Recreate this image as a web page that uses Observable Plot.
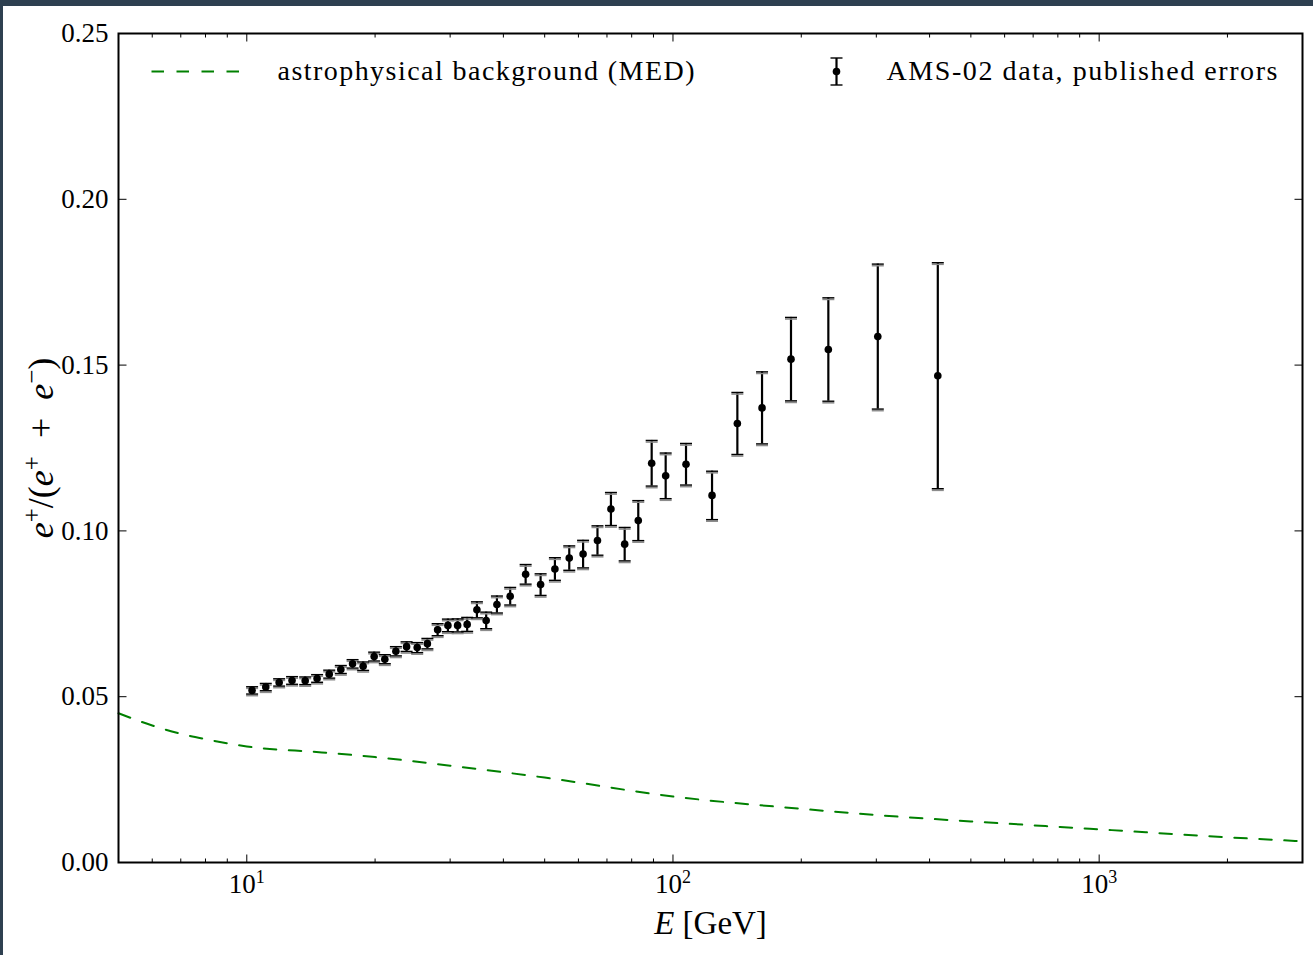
<!DOCTYPE html>
<html><head><meta charset="utf-8">
<script src="https://cdn.jsdelivr.net/npm/d3@7"></script>
<script src="https://cdn.jsdelivr.net/npm/@observablehq/plot@0.6"></script>
<style>
html,body{margin:0;padding:0;background:#2e4050;width:1313px;height:955px;overflow:hidden;}
#chart{position:absolute;left:3px;top:6px;width:1310px;height:949px;background:#fff;}
</style></head><body><div id="chart"></div>
<script>
// AMS-02 positron fraction
const energy = [10.29, 11.08, 11.91, 12.77, 13.71, 14.62, 15.61, 16.62, 17.71, 18.75, 19.90, 21.08, 22.38, 23.71, 25.11, 26.53, 28.04, 29.64, 31.24, 32.89, 34.67, 36.45, 38.63, 41.50, 45.11, 48.91, 52.84, 57.10, 61.53, 66.50, 71.52, 77.03, 82.90, 89.13, 96.13, 107.3, 123.5, 141.6, 161.8, 189.2, 231.5, 302.4, 418.2];
const fraction = [0.0519, 0.0529, 0.0543, 0.0549, 0.0548, 0.0555, 0.0568, 0.0582, 0.0599, 0.0592, 0.0621, 0.0613, 0.0637, 0.0651, 0.0648, 0.0660, 0.0702, 0.0715, 0.0715, 0.0718, 0.0762, 0.0730, 0.0778, 0.0803, 0.0869, 0.0838, 0.0885, 0.0918, 0.0930, 0.0971, 0.1066, 0.0960, 0.1031, 0.1204, 0.1166, 0.1201, 0.1107, 0.1324, 0.1371, 0.1518, 0.1547, 0.1586, 0.1468];
const fractionErr = [0.0011, 0.0011, 0.0011, 0.00115, 0.00115, 0.00115, 0.0012, 0.0012, 0.00127, 0.00127, 0.00133, 0.00136, 0.00139, 0.00145, 0.00151, 0.00157, 0.00181, 0.0019, 0.00196, 0.00211, 0.00241, 0.0025, 0.00256, 0.00265, 0.00296, 0.00326, 0.00341, 0.00368, 0.00416, 0.00443, 0.00498, 0.00504, 0.00603, 0.00688, 0.00688, 0.00627, 0.0073, 0.00935, 0.01086, 0.01258, 0.01559, 0.02186, 0.03408];

// astrophysical background (MED)
const bgEnergy = [5, 6, 7, 8, 10, 15, 20, 30, 50, 100, 200, 300, 500, 1000, 2000, 3000];
const bgFraction = [0.0450, 0.0413, 0.0388, 0.0372, 0.0350, 0.0332, 0.0318, 0.0292, 0.0256, 0.0199, 0.0162, 0.0143, 0.0124, 0.0100, 0.0076, 0.0064];

const xDomain = [5, 3000];
const yDomain = [0, 0.25];
const xMajorTicks = [10, 100, 1000];
const xMajorLabels = ["10^1", "10^2", "10^3"];
const xMinorTicks = [6, 7, 8, 9, 20, 30, 40, 50, 60, 70, 80, 90, 200, 300, 400, 500, 600, 700, 800, 900, 2000];
const yTicks = [0, 0.05, 0.10, 0.15, 0.20, 0.25];
const yTickLabels = ["0.00", "0.05", "0.10", "0.15", "0.20", "0.25"];
const legendLabels = ["astrophysical background (MED)", "AMS-02 data, published errors"];
const xLabel = "E [GeV]";
const yLabel = "e+/(e+ + e-)";

const ams = energy.map((e, i) => ({E: e, f: fraction[i], lo: fraction[i] - fractionErr[i], hi: fraction[i] + fractionErr[i]}));
const bg = bgEnergy.map((e, i) => ({E: e, f: bgFraction[i]}));

const sym = (fn) => ({draw(ctx, size) { const r = Math.sqrt(size / Math.PI); fn(ctx, r); }});
const hLine = sym((c, r) => { c.moveTo(-r, 0); c.lineTo(r, 0); });
const vLine = sym((c, r) => { c.moveTo(0, -r); c.lineTo(0, r); });
const tickUp = sym((c, r) => { c.moveTo(0, 0); c.lineTo(0, -r); });
const tickDown = sym((c, r) => { c.moveTo(0, 0); c.lineTo(0, r); });
const tickRight = sym((c, r) => { c.moveTo(0, 0); c.lineTo(r, 0); });
const tickLeft = sym((c, r) => { c.moveTo(0, 0); c.lineTo(-r, 0); });

const green = "#008000";
const tickStyle = {fill: "none", stroke: "black", strokeWidth: 1};

const chart = Plot.plot({
  width: 1310, height: 949,
  marginLeft: 115, marginRight: 11, marginTop: 27, marginBottom: 93,
  style: {fontFamily: "'Liberation Serif', serif", background: "white", color: "black"},
  x: {type: "log", domain: xDomain, axis: null},
  y: {domain: yDomain, axis: null},
  marks: [
    // background model
    Plot.line(bg, {x: "E", y: "f", stroke: green, strokeWidth: 2, strokeDasharray: "12.5,12.5", curve: "monotone-x"}),
    // error bars
    Plot.ruleX(ams, {x: "E", y1: "lo", y2: "hi", stroke: "black", strokeWidth: 2.2}),
    Plot.dot(ams, {x: "E", y: "hi", symbol: hLine, r: 6, fill: "none", stroke: "#8c8c8c", strokeWidth: 1.6, dy: 1.6}),
    Plot.dot(ams, {x: "E", y: "lo", symbol: hLine, r: 6, fill: "none", stroke: "#8c8c8c", strokeWidth: 1.6, dy: 1.6}),
    Plot.dot(ams, {x: "E", y: "hi", symbol: hLine, r: 6, fill: "none", stroke: "black", strokeWidth: 1.4}),
    Plot.dot(ams, {x: "E", y: "lo", symbol: hLine, r: 6, fill: "none", stroke: "black", strokeWidth: 1.4}),
    Plot.dot(ams, {x: "E", y: "f", r: 3.8, fill: "black", stroke: "none"}),
    // ticks (inward, all four sides)
    Plot.dot(xMajorTicks, {x: d => d, y: yDomain[0], symbol: tickUp, r: 8, ...tickStyle}),
    Plot.dot(xMajorTicks, {x: d => d, y: yDomain[1], symbol: tickDown, r: 8, ...tickStyle}),
    Plot.dot(xMinorTicks, {x: d => d, y: yDomain[0], symbol: tickUp, r: 4, ...tickStyle}),
    Plot.dot(xMinorTicks, {x: d => d, y: yDomain[1], symbol: tickDown, r: 4, ...tickStyle}),
    Plot.dot(yTicks, {x: xDomain[0], y: d => d, symbol: tickRight, r: 8, ...tickStyle}),
    Plot.dot(yTicks, {x: xDomain[1], y: d => d, symbol: tickLeft, r: 8, ...tickStyle}),
    Plot.frame({stroke: "black", strokeWidth: 2}),
    // tick labels
    Plot.text(yTicks, {y: d => d, frameAnchor: "left", text: (d, i) => yTickLabels[i], textAnchor: "end", dx: -10, fontSize: 27, fill: "black"}),
    Plot.text(xMajorTicks, {x: d => d, frameAnchor: "bottom", text: (d, i) => xMajorLabels[i], textAnchor: "middle", lineAnchor: "top", dy: 11, fontSize: 27, fill: "black"}),
    // axis labels
    Plot.text([xLabel], {frameAnchor: "bottom", text: d => d, textAnchor: "middle", lineAnchor: "middle", dy: 61, fontSize: 33, fill: "black"}),
    Plot.text([yLabel], {frameAnchor: "left", text: d => d, rotate: -90, textAnchor: "middle", lineAnchor: "middle", dx: -77, fontSize: 36, fill: "black"}),
    // legend
    Plot.dot([0], {frameAnchor: "top-left", dx: 78, dy: 38, symbol: hLine, r: 45, fill: "none", stroke: green, strokeWidth: 2, strokeDasharray: "12.5,12.5"}),
    Plot.text([legendLabels[0]], {frameAnchor: "top-left", text: d => d, dx: 159, dy: 38, textAnchor: "start", lineAnchor: "middle", fontSize: 28, fill: "black"}),
    Plot.dot([0], {frameAnchor: "top-left", dx: 718, dy: 38, symbol: vLine, r: 13.5, fill: "none", stroke: "black", strokeWidth: 2.2}),
    Plot.dot([0], {frameAnchor: "top-left", dx: 718, dy: 24.5, symbol: hLine, r: 6, fill: "none", stroke: "black", strokeWidth: 1.4}),
    Plot.dot([0], {frameAnchor: "top-left", dx: 718, dy: 51.5, symbol: hLine, r: 6, fill: "none", stroke: "black", strokeWidth: 1.4}),
    Plot.dot([0], {frameAnchor: "top-left", dx: 718, dy: 38, r: 3.8, fill: "black", stroke: "none"}),
    Plot.text([legendLabels[1]], {frameAnchor: "top-left", text: d => d, dx: 768, dy: 38, textAnchor: "start", lineAnchor: "middle", fontSize: 28, fill: "black"})
  ]
});

document.getElementById("chart").appendChild(chart);

// rich text: italics and superscripts
function rich(marker, parts) {
  d3.select(chart).selectAll("text").filter(function() { return this.textContent === marker; }).each(function() {
    const t = d3.select(this);
    t.text(null);
    let shift = 0;
    parts.forEach(p => {
      const s = t.append("tspan").text(p.t);
      if (p.i) s.attr("font-style", "italic");
      if (p.fs) s.attr("font-size", p.fs);
      const target = p.sup ? -p.sup : 0;
      if (target !== shift) { s.attr("dy", target - shift); shift = target; }
    });
  });
}
xMajorLabels.forEach(l => {
  const [base, exp] = l.split("^");
  rich(l, [{t: base}, {t: exp, sup: 10, fs: 18}]);
});
rich(xLabel, [{t: "E", i: true}, {t: " [GeV]"}]);
rich(yLabel, [{t: "e", i: true}, {t: "+", sup: 13, fs: 25}, {t: "/("}, {t: "e", i: true}, {t: "+", sup: 13, fs: 25}, {t: "\u2002+\u2002"}, {t: "e", i: true}, {t: "\u2212", sup: 13, fs: 25}, {t: ")"}]);
// legend text widths as in the reference
d3.select(chart).selectAll("text").filter(function() { return this.textContent === legendLabels[0]; }).attr("textLength", 417).attr("lengthAdjust", "spacing");
d3.select(chart).selectAll("text").filter(function() { return this.textContent === legendLabels[1]; }).attr("textLength", 391).attr("lengthAdjust", "spacing");
</script></body></html>
